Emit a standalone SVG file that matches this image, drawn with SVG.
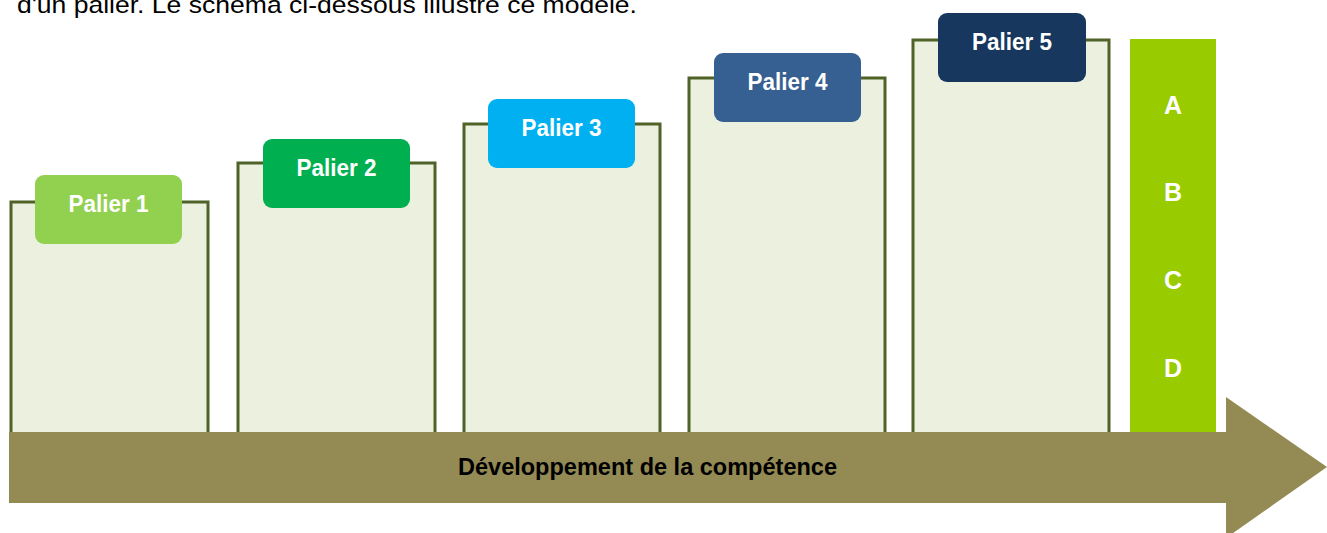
<svg xmlns="http://www.w3.org/2000/svg" width="1327" height="533" viewBox="0 0 1327 533">
<style>
.bar{fill:#ebf1de;stroke:#4f6228;stroke-width:3}
.lbl{font-family:"Liberation Sans",Arial,sans-serif;font-weight:bold;font-size:24px;fill:#ffffff;text-anchor:middle}
.let{font-family:"Liberation Sans",Arial,sans-serif;font-weight:bold;font-size:25px;fill:#ffffff;text-anchor:middle}
.intro{font-family:"Liberation Sans",Arial,sans-serif;font-size:24px;fill:#000000}
.arrowtxt{font-family:"Liberation Sans",Arial,sans-serif;font-weight:bold;font-size:23px;fill:#000000;text-anchor:middle}
</style>
<rect width="1327" height="533" fill="#ffffff"/>
<text class="intro" x="17" y="13" textLength="620" lengthAdjust="spacingAndGlyphs">d'un palier. Le schéma ci-dessous illustre ce modèle.</text>
<g id="bar1"><rect class="bar" x="11" y="202" width="197" height="232"/><rect x="35" y="175" width="147" height="69" rx="9" fill="#92d050"/><text class="lbl" x="108.5" y="212" textLength="80" lengthAdjust="spacingAndGlyphs">Palier 1</text></g>
<g id="bar2"><rect class="bar" x="238" y="163" width="197" height="271"/><rect x="263" y="139" width="147" height="69" rx="9" fill="#00b050"/><text class="lbl" x="336.5" y="176" textLength="80" lengthAdjust="spacingAndGlyphs">Palier 2</text></g>
<g id="bar3"><rect class="bar" x="464" y="124" width="196" height="310"/><rect x="488" y="99" width="147" height="69" rx="9" fill="#00b0f0"/><text class="lbl" x="561.5" y="136" textLength="80" lengthAdjust="spacingAndGlyphs">Palier 3</text></g>
<g id="bar4"><rect class="bar" x="689" y="78" width="196" height="356"/><rect x="714" y="53" width="147" height="69" rx="9" fill="#376092"/><text class="lbl" x="787.5" y="90" textLength="80" lengthAdjust="spacingAndGlyphs">Palier 4</text></g>
<g id="bar5"><rect class="bar" x="913" y="40" width="196" height="394"/><rect x="938" y="13" width="148" height="69" rx="9" fill="#17375e"/><text class="lbl" x="1012" y="50" textLength="80" lengthAdjust="spacingAndGlyphs">Palier 5</text></g>
<g id="levels"><rect x="1130" y="39" width="86" height="395" fill="#99cc00"/>
<text class="let" x="1173" y="114">A</text>
<text class="let" x="1173" y="201">B</text>
<text class="let" x="1173" y="289">C</text>
<text class="let" x="1173" y="377">D</text></g>
<g id="arrow"><polygon points="9,432 1226,432 1226,397 1327,467 1226,538 1226,503 9,503" fill="#948a54"/>
<text class="arrowtxt" x="647.5" y="475" textLength="379" lengthAdjust="spacingAndGlyphs">Développement de la compétence</text></g>
</svg>
